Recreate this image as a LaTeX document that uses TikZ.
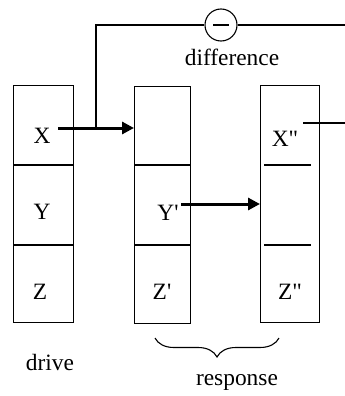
\documentclass[tikz,border=0pt]{standalone}
\usepackage{fontspec}
\setmainfont{Liberation Serif}[Ligatures=TeXOff]
\usetikzlibrary{arrows.meta,decorations.pathreplacing}
\begin{document}
\begin{tikzpicture}[x=1pt,y=-1pt,
  cellbox/.style={draw,line width=1.1pt,minimum width=#1,minimum height=237pt,inner sep=0pt,anchor=north west},
  lbl/.style={inner sep=0pt,font=\fontsize{23.4}{28}\selectfont},
  thin/.style={line width=1.1pt},
  bigarrow/.style={line width=3pt,-{Triangle[length=12pt,width=12pt]}}]
\useasboundingbox (0,0) rectangle (345,396);
% boxes
\node[cellbox=60pt] (b1) at (13,85) {};
\node[cellbox=56pt] (b2) at (134,86) {};
\node[cellbox=59pt] (b3) at (260,85) {};
% dividers
\draw[thin] (b1.west |- 0,165) -- (b1.east |- 0,165);
\draw[thin] (b1.west |- 0,245) -- (b1.east |- 0,245);
\draw[thin] (b2.west |- 0,165) -- (b2.east |- 0,165);
\draw[thin] (b2.west |- 0,245) -- (b2.east |- 0,245);
\coordinate (d1a) at (264,165); \coordinate (d1b) at (311,165);
\coordinate (d2a) at (264,245); \coordinate (d2b) at (311,245);
\draw[thin] (d1a) -- (d1b);
\draw[thin] (d2a) -- (d2b);
% labels
\node[lbl] (X) at (42,136) {X};
\node[lbl] (Y) at (42,212) {Y};
\node[lbl] (Z) at (40,292) {Z};
\node[lbl] (Yp) at (168,213) {Y'};
\node[lbl] (Zp) at (162,292) {Z'};
\node[lbl] (Xpp) at (285,139) {X"};
\node[lbl] (Zpp) at (290,292) {Z"};
\node[lbl] (diff) at (232,57) {difference};
\node[lbl] (drive) at (50,362) {drive};
\node[lbl] (resp) at (237,382) {response};
% difference circle
\node[draw,thin,circle,minimum size=32pt,inner sep=0pt] (circ) at (221,25) {};
\draw[line width=1.4pt] ([xshift=-8pt]circ.center) -- ([xshift=8pt]circ.center);
% arrows
\coordinate (a1s) at (58,128);
\draw[bigarrow] (a1s) -- (b2.west |- a1s);
\coordinate (a2s) at (181,204);
\draw[bigarrow] (a2s) -- (b3.west |- a2s);
% feedback lines
\coordinate (br) at (96,128);
\draw[thin] (br) |- (circ.west);
\coordinate (rt) at (345,25);
\draw[thin] (circ.east) -- (rt);
\coordinate (xl) at (303,123);
\coordinate (xr) at (345,123);
\draw[thin] (xl) -- (xr);
% brace
\coordinate (bra) at (155,338); \coordinate (brb) at (279,338);
\draw[thin,decorate,decoration={brace,amplitude=19pt,mirror}] (bra) -- (brb);
\end{tikzpicture}
\end{document}
